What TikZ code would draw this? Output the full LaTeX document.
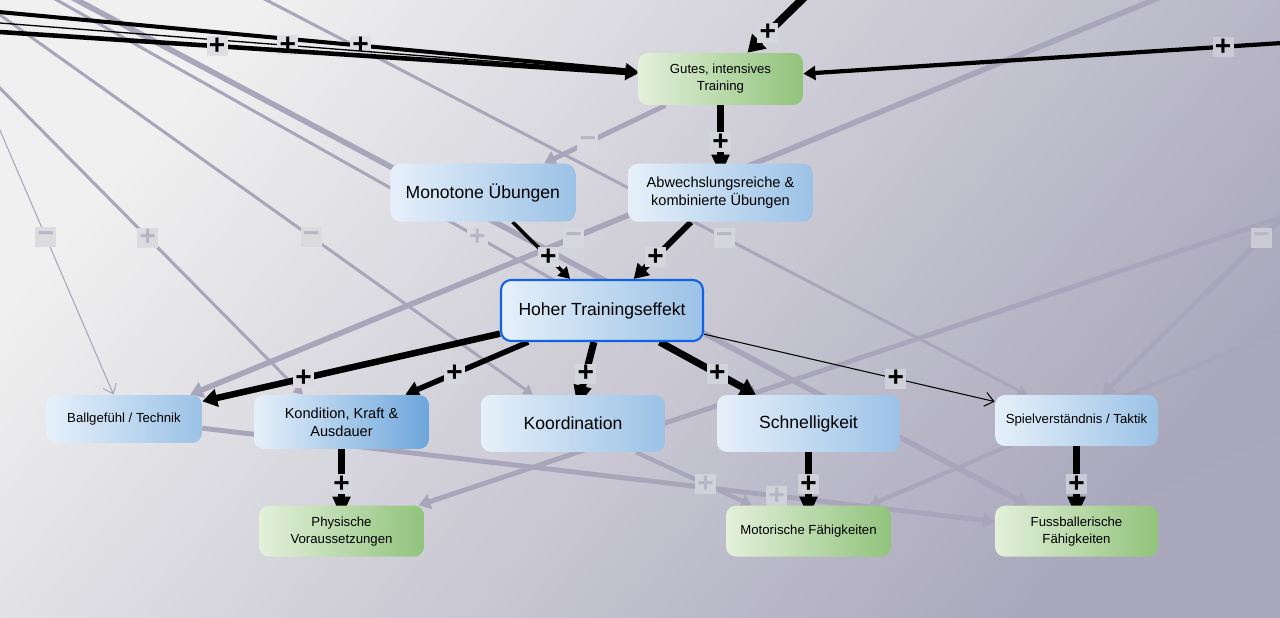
\documentclass[tikz,border=0pt]{standalone}
\usepackage{fontspec}
\setmainfont{Liberation Sans}
\usetikzlibrary{positioning,arrows.meta}

\definecolor{hgA}{HTML}{F0F0F0}
\definecolor{hgB}{HTML}{AAA8BC}
\definecolor{blauA}{HTML}{E6F0FA}
\definecolor{blauB}{HTML}{9BC2E6}
\definecolor{blauC}{HTML}{6DA6DB}
\definecolor{gruenA}{HTML}{E3F0DB}
\definecolor{gruenB}{HTML}{91C37B}
\definecolor{rand}{HTML}{0F62E6}
\definecolor{geistc}{HTML}{A9A6BB}
\definecolor{geisttext}{HTML}{B7B6C6}
\definecolor{lblA}{HTML}{DFDFE3}
\definecolor{lblC}{HTML}{C6C5D1}

\pgfdeclarelayer{hinten}
\pgfdeclarelayer{mitte}
\pgfsetlayers{hinten,mitte,main}

\tikzstyle{kasten}=[rectangle,rounded corners=0.2cm,left color=blauA,right color=blauB,align=center,inner sep=0pt,text=black]
\tikzstyle{kastendunkel}=[kasten,right color=blauC]
\tikzstyle{kastengruen}=[kasten,left color=gruenA,right color=gruenB]
\tikzstyle{zentrum}=[kasten,draw=rand,line width=1.2pt]
\tikzstyle{gross}=[font=\fontsize{10}{12}\selectfont]
\tikzstyle{mittel}=[font=\fontsize{8.3}{10.4}\selectfont]
\tikzstyle{klein}=[font=\fontsize{7.5}{9.7}\selectfont]
\tikzstyle{zeichen}=[rectangle,inner sep=0pt,minimum width=0.42cm,minimum height=0.4cm,font=\fontsize{16}{16}\selectfont\bfseries,text=black]
\tikzstyle{zeichengrau}=[zeichen,text=geisttext]
\tikzstyle{pfeil}=[draw=black,-{Triangle[length=4pt 1.2,width=4pt 1.6]}]
\tikzstyle{steil}=[draw=black,line width=4.2pt,-{Triangle[length=12pt,width=9.6pt]},shorten >=-7pt]
\tikzstyle{geist}=[draw=geistc,line width=1.7pt,-{Triangle[length=3pt 1.3,width=3pt 2]}]
\tikzstyle{geistdick}=[geist,line width=3.2pt]
\tikzstyle{geistduenn}=[draw=geistc,line width=0.6pt,-{Straight Barb[length=5pt,width=8pt]}]

\begin{document}
\begin{tikzpicture}[x=0.02cm,y=-0.02cm]
\useasboundingbox (0,0) rectangle (1280,618);

\node[kastengruen,klein,minimum width=3.3cm,minimum height=1.04cm] (gutes) at (720.5,79) {Gutes, intensives\\Training};
\node[kasten,mittel,minimum width=3.7cm,minimum height=1.16cm] (abw) [below=1.16cm of gutes] {Abwechslungsreiche \&\\kombinierte Übungen};
\node[kasten,gross,minimum width=3.7cm,minimum height=1.16cm] (mono) [left=1.04cm of abw] {Monotone Übungen};
\node[zentrum,gross,minimum width=4.04cm,minimum height=1.22cm] (hoher) at (602,310.5) {Hoher Trainingseffekt};
\node[kasten,klein,minimum width=3.12cm,minimum height=0.96cm] (ball) at (124,419) {Ballgefühl / Technik};
\node[kastendunkel,mittel,minimum width=3.5cm,minimum height=1.08cm] (kond) at (341.5,422) {Kondition, Kraft \&\\Ausdauer};
\node[kasten,gross,minimum width=3.68cm,minimum height=1.14cm] (koord) at (573,423.5) {Koordination};
\node[kasten,gross,minimum width=3.66cm,minimum height=1.14cm] (schnell) at (808.5,423.5) {Schnelligkeit};
\node[kasten,klein,minimum width=3.26cm,minimum height=1.02cm] (spiel) at (1076.5,420.5) {Spielverständnis / Taktik};
\node[kastengruen,klein,minimum width=3.3cm,minimum height=1.02cm] (phys) [below=1.12cm of kond] {Physische\\Voraussetzungen};
\node[kastengruen,klein,minimum width=3.3cm,minimum height=1.02cm] (motor) [below=1.06cm of schnell] {Motorische Fähigkeiten};
\node[kastengruen,klein,minimum width=3.26cm,minimum height=1.02cm] (fuss) [below=1.18cm of spiel] {Fussballerische\\Fähigkeiten};

% free ends outside the frame
\coordinate (qa) at (-56,0);
\coordinate (qb) at (-97,-10);
\coordinate (qc) at (-21,0);
\coordinate (qd) at (58,-10);
\coordinate (qe) at (39,-10);
\coordinate (qg) at (247,-10);
\coordinate (qf) at (1178,-10);
\coordinate (qj) at (1300,211);
\coordinate (qk) at (1500,2);
\coordinate (ql) at (1300,322);
\coordinate (qm) at (1300,418);
\coordinate (sa) at (-55,7);
\coordinate (sb) at (-237,4.6);
\coordinate (sc) at (-414,5);
\coordinate (sd) at (822,-20);
\coordinate (se) at (1340,39.3);

\begin{pgfonlayer}{hinten}
\shade[top color=hgA,bottom color=hgB,shading angle=50] (0,0) rectangle (1280,618);
% grey links
\draw[geistduenn] (qa) -- node[zeichengrau,fill=lblA!85!lblC,pos=0.6]{−} (ball);
\draw[geist] (qb) -- node[zeichengrau,fill=lblA!85!lblC,pos=0.612]{+} ([xshift=-0.77cm]kond.north);
\draw[geist] (qc) -- node[zeichengrau,fill=lblA!80!lblC,pos=0.6]{−} (koord);
\draw[geistdick] (qd) -- (fuss);
\draw[geist] (qe) -- node[zeichengrau,fill=lblA!75!lblC,pos=0.61]{+} (schnell);
\draw[geist] (qg) -- node[zeichengrau,fill=lblA!60!lblC,pos=0.612]{−} (spiel);
\draw[geistdick] (qf) -- node[zeichengrau,fill=lblA!70!lblC,pos=0.612]{−} ([xshift=-0.24cm]ball.north east);
\draw[geistdick,line width=2.8pt] (gutes) -- node[zeichengrau,fill=lblA!75!lblC,pos=0.64]{−} (mono);
\draw[geistdick,line width=2.8pt] (qj) -- (phys);
\draw[geistdick,line width=2.8pt] (qk) -- node[zeichengrau,fill=lblA!20!lblC,pos=0.6]{−} (spiel);
\draw[geistdick,line width=2.4pt] (ql) -- (motor);
\draw[geistdick,line width=2.4pt] (qm) -- (fuss);
\draw[geistdick,line width=2.8pt] (ball) -- node[zeichengrau,fill=lblA!45!lblC,pos=0.725]{+} (fuss);
\draw[geistdick,line width=2.4pt] (koord) -- node[zeichengrau,fill=lblA!50!lblC,pos=0.6]{+} (motor);
\end{pgfonlayer}

\begin{pgfonlayer}{mitte}
\draw[pfeil,line width=2.3pt] (sa) -- node[zeichen,fill=lblA!95!lblC,pos=0.6]{+} (gutes);
\draw[pfeil,line width=0.75pt] (sb) -- node[zeichen,fill=lblA,pos=0.6]{+} (gutes);
\draw[pfeil,line width=2.6pt] (sc) -- node[zeichen,fill=lblA,pos=0.6]{+} (gutes);
\draw[pfeil,line width=4.5pt] (sd) -- node[zeichen,fill=lblA!65!lblC,pos=0.726]{+} (gutes);
\draw[pfeil,line width=2.4pt] (se) -- node[zeichen,fill=lblA!25!lblC,pos=0.218]{+} (gutes);
\draw[steil] (gutes) -- node[zeichen,fill=lblA!62!lblC,pos=0.64]{+} (abw);
\draw[pfeil,line width=2pt] (mono) -- node[zeichen,fill=lblA!70!lblC,pos=0.62]{+} (hoher);
\draw[pfeil,line width=3.4pt] (abw) -- node[zeichen,fill=lblA!62!lblC,pos=0.62]{+} (hoher);
\draw[pfeil,line width=3.7pt] (hoher) -- node[zeichen,fill=lblA!80!lblC,pos=0.66]{+} (ball);
\draw[pfeil,line width=3.1pt] (hoher) -- node[zeichen,fill=lblA!70!lblC,pos=0.6]{+} (kond);
\draw[steil,line width=4pt] (hoher) -- node[zeichen,fill=lblA!60!lblC,pos=0.6]{+} (koord);
\draw[pfeil,line width=4pt] (hoher) -- node[zeichen,fill=lblA!52!lblC,pos=0.6]{+} (schnell);
\draw[draw=black,line width=0.6pt,-{Straight Barb[length=5pt,width=8pt]}] (hoher) -- node[zeichen,fill=lblA!38!lblC,pos=0.66]{+} (spiel);
\draw[steil] (kond) -- node[zeichen,fill=lblA!70!lblC,pos=0.62]{+} (phys);
\draw[steil] (schnell) -- node[zeichen,fill=lblA!42!lblC,pos=0.6]{+} (motor);
\draw[steil] (spiel) -- node[zeichen,fill=lblA!22!lblC,pos=0.64]{+} (fuss);
\end{pgfonlayer}

\end{tikzpicture}
\end{document}
